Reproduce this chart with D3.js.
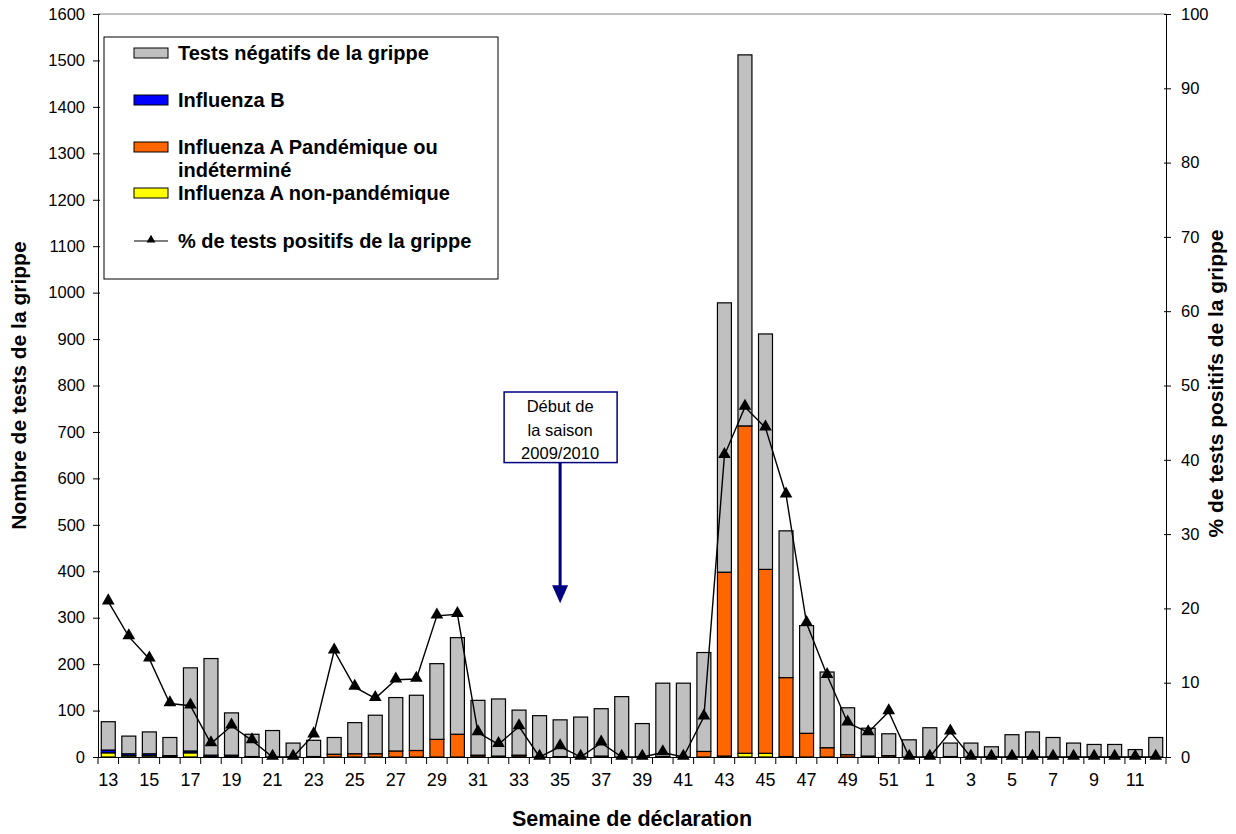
<!DOCTYPE html>
<html lang="fr">
<head>
<meta charset="UTF-8">
<title>Tests de la grippe</title>
<script src="https://d3js.org/d3.v7.min.js"></script>
<style>
    body { margin: 0; background: #fff; }
    svg text { font-family: "Liberation Sans", Arial, sans-serif; fill: #000; }
    .axis path, .axis line { stroke: #000; }
    .bold { font-weight: bold; }
</style>
</head>
<body>
<div id="chart"></div>
<script>
// semaines de déclaration
const weeks = ["13","14","15","16","17","18","19","20","21","22",
    "23","24","25","26","27","28","29","30","31","32",
    "33","34","35","36","37","38","39","40","41","42",
    "43","44","45","46","47","48","49","50","51","52",
    "1","2","3","4","5","6","7","8","9","10","11","12"];

const nonPandemic = [9,3,3,1,9,1,1,0,0,0, 0,0,0,0,0,0,0,0,0,0,
    0,0,0,0,0,0,0,0,0,0, 2,8,8,1,0,0,0,0,0,0, 0,0,0,0,0,0,0,0,0,0,0,0];
const pandemic = [0,0,0,0,0,0,0,0,0,0, 1,6,7,7,13,14,38,49,3,2,
    3,0,1,0,2,0,0,1,0,12, 396,705,396,170,51,20,5,2,3,0, 0,1,0,0,0,0,0,0,0,0,0,0];
const fluB = [6,4,4,2,4,3,3,1,0,0, 0,0,0,0,0,0,0,0,1,0,
    1,0,0,0,0,0,0,0,0,0, 0,0,0,0,0,0,0,0,0,0, 0,0,0,0,0,0,0,0,0,0,0,0];
const negative = [61,38,47,39,179,208,91,48,57,30, 35,36,67,83,115,119,163,208,118,123,
    97,89,79,86,102,130,72,158,159,213, 580,799,507,316,232,163,101,60,47,37,
    63,29,30,22,48,54,42,30,27,27,16,42];
const pctPositive = [20.9,16.2,13.2,7.2,6.9,1.8,4.2,2.2,0,0, 3.0,14.3,9.4,7.9,10.4,10.5,19.0,19.2,3.3,1.7,
    4.1,0,1.4,0,1.9,0,0,0.6,0,5.4, 40.6,47.1,44.3,35.3,18.0,11.0,4.6,3.3,6.1,0,
    0,3.4,0,0,0,0,0,0,0,0,0,0];

const leftTicks = d3.range(0, 1601, 100);
const rightTicks = d3.range(0, 101, 10);
const seasonStart = "35";

const series = [
    { key: "nonPandemic", label: "Influenza A non-pandémique", color: "#ffff00", values: nonPandemic },
    { key: "pandemic", label: "Influenza A Pandémique ou|indéterminé", color: "#ff6600", values: pandemic },
    { key: "fluB", label: "Influenza B", color: "#0000ff", values: fluB },
    { key: "negative", label: "Tests négatifs de la grippe", color: "#c0c0c0", values: negative }
];

const W = 1236, H = 834;
const margin = { top: 14, right: 70, bottom: 77, left: 98 };
const innerW = W - margin.left - margin.right;
const innerH = H - margin.top - margin.bottom;

const svg = d3.select("#chart").append("svg")
    .attr("width", W).attr("height", H);
const g = svg.append("g").attr("transform", `translate(${margin.left},${margin.top})`);

const x = d3.scaleBand().domain(weeks).range([0, innerW]).paddingInner(0.32).paddingOuter(0.16);
const y = d3.scaleLinear().domain([0, 1600]).range([innerH, 0]);
const y2 = d3.scaleLinear().domain([0, 100]).range([innerH, 0]);

// table pour d3.stack
const rows = weeks.map((w, i) => {
    const r = { week: w };
    series.forEach(s => r[s.key] = s.values[i]);
    return r;
});
const stacked = d3.stack().keys(series.map(s => s.key))(rows);

// bordure du haut
g.append("line").attr("x1", 0).attr("x2", innerW).attr("y1", 0).attr("y2", 0)
    .attr("stroke", "#808080");

// barres empilées
g.append("g").selectAll("g")
    .data(stacked)
    .join("g")
    .attr("fill", (d, i) => series[i].color)
    .selectAll("rect")
    .data(d => d.filter(p => p[1] - p[0] > 0))
    .join("rect")
    .attr("x", d => x(d.data.week))
    .attr("y", d => y(d[1]))
    .attr("width", x.bandwidth())
    .attr("height", d => y(d[0]) - y(d[1]))
    .attr("stroke", "#000")
    .attr("stroke-width", 1.2);

// axe gauche
const yAxis = g.append("g").attr("class", "axis")
    .call(d3.axisLeft(y).tickValues(leftTicks).tickFormat(d3.format("d"))
        .tickSize(5).tickPadding(8).tickSizeOuter(0));
yAxis.selectAll("text").attr("font-size", 16.5);
yAxis.selectAll(".tick line").attr("x2", -5).attr("x1", 2);

// axe droit
const y2Axis = g.append("g").attr("class", "axis")
    .attr("transform", `translate(${innerW},0)`)
    .call(d3.axisRight(y2).tickValues(rightTicks).tickSize(5).tickPadding(10).tickSizeOuter(0));
y2Axis.selectAll("text").attr("font-size", 16.5);
y2Axis.selectAll(".tick line").attr("x1", -2);

// axe du bas
const step = x.step();
const xAxis = g.append("g").attr("class", "axis")
    .attr("transform", `translate(0,${innerH})`)
    .call(d3.axisBottom(x).tickSize(0).tickPadding(16).tickSizeOuter(0)
        .tickFormat((d, i) => i % 2 === 0 ? d : ""));
xAxis.selectAll("text").attr("font-size", 18);
xAxis.selectAll(".tick").append("line")
    .attr("x1", -step / 2).attr("x2", -step / 2)
    .attr("y1", 0).attr("y2", 7)
    .attr("stroke", "#000");
xAxis.append("line").attr("x1", innerW).attr("x2", innerW).attr("y1", 0).attr("y2", 7).attr("stroke", "#000");

// courbe du % positif
const cx = d => x(d) + x.bandwidth() / 2;
const line = d3.line().x((d, i) => cx(weeks[i])).y(d => y2(d));
g.append("path").datum(pctPositive)
    .attr("d", line)
    .attr("fill", "none")
    .attr("stroke", "#000")
    .attr("stroke-width", 1.4);
const tri = d3.symbol().type(d3.symbolTriangle).size(70);
g.append("g").selectAll("path")
    .data(pctPositive)
    .join("path")
    .attr("d", tri)
    .attr("transform", (d, i) => `translate(${cx(weeks[i])},${y2(d) - 1})`)
    .attr("fill", "#000");

// annotation début de saison
const ax = cx(seasonStart);
const boxTop = y(786), boxBot = y(634), tip = y(331);
const navy = "#000080";
g.append("rect")
    .attr("x", ax - 56).attr("y", boxTop)
    .attr("width", 113).attr("height", boxBot - boxTop)
    .attr("fill", "#fff").attr("stroke", navy).attr("stroke-width", 1.5);
["Début de", "la saison", "2009/2010"].forEach((t, i) => {
    g.append("text").attr("x", ax).attr("y", boxTop + 20 + i * 23.5)
        .attr("text-anchor", "middle").attr("font-size", 16.5).text(t);
});
g.append("line").attr("x1", ax).attr("x2", ax).attr("y1", boxBot).attr("y2", tip - 15)
    .attr("stroke", navy).attr("stroke-width", 3);
g.append("path")
    .attr("d", `M${ax - 8},${tip - 18}L${ax + 8},${tip - 18}L${ax},${tip}Z`)
    .attr("fill", navy);

// légende
const lg = svg.append("g").attr("transform", "translate(104,37)");
lg.append("rect").attr("width", 394).attr("height", 242)
    .attr("fill", "#fff").attr("stroke", "#000").attr("stroke-width", 1);
const legendItems = [
    { s: series[3], cy: 16 },
    { s: series[2], cy: 63 },
    { s: series[1], cy: 110 },
    { s: series[0], cy: 156 }
];
legendItems.forEach(it => {
    lg.append("rect").attr("x", 30).attr("y", it.cy - 5).attr("width", 34).attr("height", 10)
        .attr("fill", it.s.color).attr("stroke", "#000").attr("stroke-width", 1);
    it.s.label.split("|").forEach((t, j) => {
        lg.append("text").attr("class", "bold").attr("x", 74).attr("y", it.cy + 7 + j * 23)
            .attr("font-size", 20).text(t);
    });
});
lg.append("line").attr("x1", 30).attr("x2", 64).attr("y1", 204).attr("y2", 204)
    .attr("stroke", "#000").attr("stroke-width", 1.2);
lg.append("path").attr("d", d3.symbol().type(d3.symbolTriangle).size(35))
    .attr("transform", "translate(47,203)");
lg.append("text").attr("class", "bold").attr("x", 74).attr("y", 211)
    .attr("font-size", 20).text("% de tests positifs de la grippe");

// titres des axes
svg.append("text").attr("class", "bold")
    .attr("transform", `translate(26,${margin.top + innerH / 2}) rotate(-90)`)
    .attr("text-anchor", "middle").attr("font-size", 21).text("Nombre de tests de la grippe");
svg.append("text").attr("class", "bold")
    .attr("transform", `translate(1223,${margin.top + innerH / 2 - 2}) rotate(-90)`)
    .attr("text-anchor", "middle").attr("font-size", 21).text("% de tests positifs de la grippe");
svg.append("text").attr("class", "bold")
    .attr("x", margin.left + innerW / 2).attr("y", 826)
    .attr("text-anchor", "middle").attr("font-size", 21.5).text("Semaine de déclaration");
</script>
</body>
</html>
